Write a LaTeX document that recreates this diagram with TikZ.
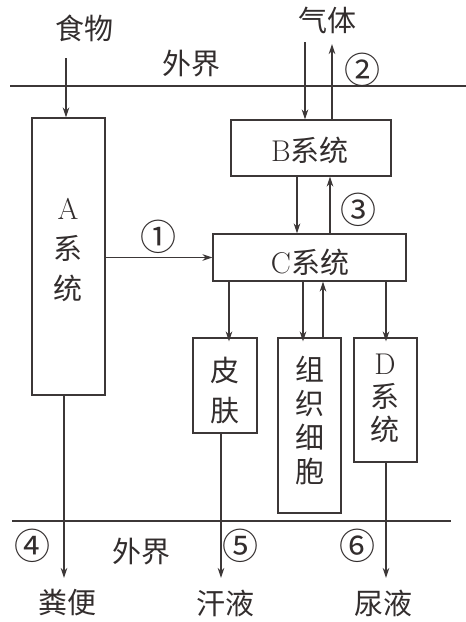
\documentclass[tikz,border=0pt]{standalone}
\usepackage{fontspec}
\newfontfamily\cjk{Noto Sans CJK SC}
\usetikzlibrary{arrows.meta}
\begin{document}
\begin{tikzpicture}[x=1pt,y=-1pt,
  line width=1.1pt, draw={rgb,255:red,60;green,55;blue,55},
  arr/.style={-{Stealth[length=10pt,width=6.5pt]}},
  box/.style={draw, minimum width=#1, inner sep=0pt},
  txt/.style={font=\fontsize{29}{32}\selectfont\cjk, text={rgb,255:red,50;green,45;blue,45}, inner sep=0pt},
  num/.style={font=\fontsize{36}{38}\selectfont\cjk, text={rgb,255:red,50;green,45;blue,45}, inner sep=0pt},
  lat/.style={font=\fontsize{30}{32}\selectfont\rmfamily}]
\useasboundingbox (0,0) rectangle (466,622);
% boundary lines
\coordinate (t1) at (10,86); \coordinate (t2) at (466,86);
\coordinate (b1) at (12,521); \coordinate (b2) at (451,521);
\draw (t1) -- (t2);
\draw (b1) -- (b2);
\node[txt] (out1) at (191,64) {外界};
\node[txt] (out2) at (141,552) {外界};
% boxes
\node[box=73pt, minimum height=277pt] (A) at (68.5,256.5) {};
\node[box=160pt, minimum height=56pt] (B) at (311,148) {};
\node[box=193pt, minimum height=47pt] (C) at (309.5,257.5) {};
\node[box=64pt, minimum height=95pt] (P) at (225,385.5) {};
\node[box=63pt, minimum height=175pt] (Z) at (309.5,425.5) {};
\node[box=63pt, minimum height=124pt] (D) at (385.5,400) {};
% box labels
\node[txt, align=center] (Al) at (68,250) {{\fontsize{30}{40}\selectfont\rmfamily A}\\[8pt]系\\[8pt]统};
\node[txt] (Bl) at (310,150) {{\fontsize{30}{32}\selectfont\rmfamily B}系统};
\node[txt] (Cl) at (310,262) {{\fontsize{30}{32}\selectfont\rmfamily C}系统};
\node[txt, align=center] (Pl) at (225,390) {皮\\[8pt]肤};
\node[txt, align=center] (Zl) at (310,421) {组\\[2pt]织\\[2pt]细\\[2pt]胞};
\node[txt, align=center] (Dl) at (385,398) {{\fontsize{30}{32}\selectfont\rmfamily D}\\[1pt]系\\[1pt]统};
% outside texts
\node[txt] (food) at (85,28) {食物};
\node[txt] (gas) at (327,20) {气体};
\node[txt] (feces) at (67,603) {粪便};
\node[txt] (sweat) at (225,603) {汗液};
\node[txt] (urine) at (383,603) {尿液};
% numbers
\node[num] (n1) at (158,237) {①};
\node[num] (n2) at (362,70) {②};
\node[num] (n3) at (358,210) {③};
\node[num] (n4) at (32,546) {④};
\node[num] (n5) at (240,546) {⑤};
\node[num] (n6) at (357,546) {⑥};
% x positions
\coordinate (x66) at (66,0);
\coordinate (x64) at (64,0);
\coordinate (x305) at (305,0);
\coordinate (x332) at (332,0);
\coordinate (x297) at (297,0);
\coordinate (x330) at (330,0);
\coordinate (x229) at (229,0);
\coordinate (x303) at (303,0);
\coordinate (x323) at (323,0);
\coordinate (x386) at (386,0);
\coordinate (x221) at (221,0);
\coordinate (gtop1) at (305,42);
\coordinate (gtop2) at (332,44);
\coordinate (ftop) at (66,58);
\coordinate (fbot) at (64,578);
\coordinate (sbot) at (221,578);
\coordinate (ubot) at (386,578);
% connectors
\draw[arr] (ftop) -- (A.north -| x66);
\draw[arr] (gtop1) -- (B.north -| x305);
\draw[arr] (B.north -| x332) -- (gtop2);
\draw[arr] (B.south -| x297) -- (C.north -| x297);
\draw[arr] (C.north -| x330) -- (B.south -| x330);
\draw[arr] (A.east |- C.west) -- (C.west);
\draw[arr] (C.south -| x229) -- ([yshift=-4pt]P.north -| x229);
\draw[arr] (C.south -| x303) -- ([yshift=-4pt]Z.north -| x303);
\draw[arr] (Z.north -| x323) -- (C.south -| x323);
\draw[arr] (C.south -| x386) -- ([yshift=-4pt]D.north -| x386);
\draw[arr] (A.south -| x64) -- (fbot);
\draw[arr] (P.south -| x221) -- (sbot);
\draw[arr] (D.south -| x386) -- (ubot);
\end{tikzpicture}
\end{document}
